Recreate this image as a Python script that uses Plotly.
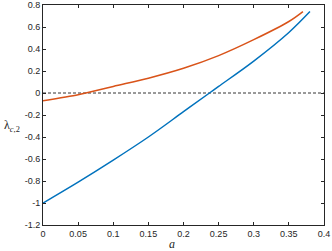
import plotly.graph_objects as go

a_blue = [0.0, 0.05, 0.1, 0.15, 0.2, 0.237, 0.25, 0.3, 0.35, 0.38]
lam_blue = [-1.0, -0.81, -0.61, -0.40, -0.17, 0.0, 0.06, 0.29, 0.55, 0.74]
a_orange = [0.0, 0.05, 0.061, 0.1, 0.15, 0.2, 0.25, 0.3, 0.35, 0.37]
lam_orange = [-0.07, -0.015, 0.0, 0.06, 0.135, 0.225, 0.34, 0.485, 0.65, 0.74]
xticks = [0, 0.05, 0.1, 0.15, 0.2, 0.25, 0.3, 0.35, 0.4]
xticklabels = ["0", "0.05", "0.1", "0.15", "0.2", "0.25", "0.3", "0.35", "0.4"]
yticks = [-1.2, -1, -0.8, -0.6, -0.4, -0.2, 0, 0.2, 0.4, 0.6, 0.8]
yticklabels = ["-1.2", "-1", "-0.8", "-0.6", "-0.4", "-0.2", "0", "0.2", "0.4", "0.6", "0.8"]

fig = go.Figure()
fig.add_trace(go.Scatter(x=[0, 0.4], y=[0, 0], mode="lines",
                         line=dict(color="black", width=0.8, dash="3px,2px"), hoverinfo="skip"))
fig.add_trace(go.Scatter(x=a_blue, y=lam_blue, mode="lines", line=dict(color="#0072BD", width=1.5, shape="spline")))
fig.add_trace(go.Scatter(x=a_orange, y=lam_orange, mode="lines", line=dict(color="#D95319", width=1.5, shape="spline")))

axis_common = dict(showline=True, linecolor="#262626", linewidth=1, mirror="ticks",
                   ticks="inside", ticklen=3, tickcolor="#262626", showgrid=False, zeroline=False,
                   automargin=False,
                   tickfont=dict(family="Liberation Sans, Arial", size=9, color="#262626"))
fig.update_xaxes(range=[0, 0.4], tickvals=xticks, ticktext=xticklabels, **axis_common)
fig.update_yaxes(range=[-1.2, 0.8], tickvals=yticks, ticktext=yticklabels, **axis_common)

fig.update_layout(
    width=332, height=251, margin=dict(l=43, r=8, t=5, b=26),
    paper_bgcolor="white", plot_bgcolor="white", showlegend=False,
)
fig.add_annotation(x=0.46, y=-0.085, xref="paper", yref="paper", text="<i>a</i>", showarrow=False,
                   yanchor="middle",
                   font=dict(family="Liberation Serif, Times New Roman", size=12, color="#262626"))
fig.add_annotation(x=-0.11, y=0.448, xref="paper", yref="paper", text="λ<sub><i>c</i>,2</sub>",
                   showarrow=False, xanchor="center", yanchor="middle",
                   font=dict(family="Liberation Serif, Times New Roman", size=12, color="#262626"))
fig.write_html("out.html", config={"displayModeBar": False},
               post_script="document.body.style.margin='0';document.body.style.overflow='hidden';")
